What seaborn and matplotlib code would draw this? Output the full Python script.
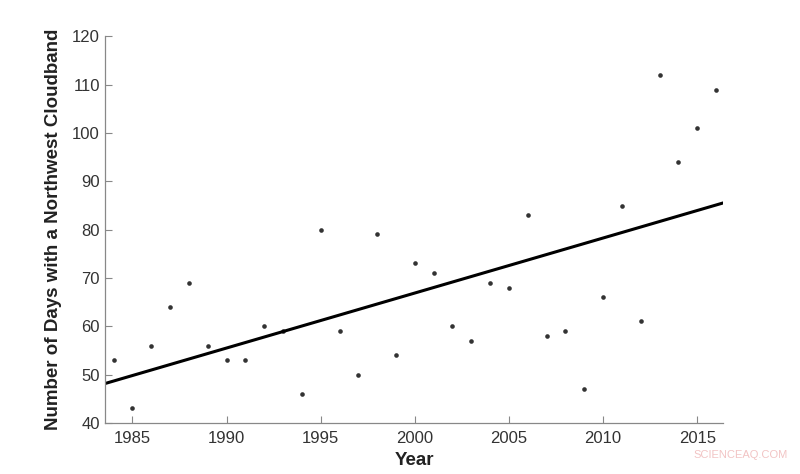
import numpy as np
import pandas as pd
import seaborn as sns
import matplotlib.pyplot as plt

# Yearly counts of northwest cloudband days
years = list(range(1984, 2017))
days = [53, 43, 56, 64, 69, 56, 53, 53, 60, 59,
        46, 80, 59, 50, 79, 54, 73, 71, 60, 57,
        69, 68, 83, 58, 59, 47, 66, 85, 61, 112,
        94, 101, 109]

x_ticks = [1985, 1990, 1995, 2000, 2005, 2010, 2015]
y_ticks = [40, 50, 60, 70, 80, 90, 100, 110, 120]

df = pd.DataFrame({'Year': years, 'Days': days})

sns.set_style('ticks')
plt.rcParams['font.family'] = ['Liberation Sans', 'DejaVu Sans']

fig = plt.figure(figsize=(8, 4.74), dpi=100)
ax = fig.add_axes([0.131, 0.108, 0.773, 0.815])
ax.set_xlim(1983.53, 2016.38)
ax.set_ylim(40, 120)

# scatter + least-squares line spanning the full x range
sns.regplot(data=df, x='Year', y='Days', ax=ax, ci=None, truncate=False,
            scatter_kws={'s': 11, 'color': 'black', 'linewidths': 0},
            line_kws={'color': 'black', 'linewidth': 2.2})

ax.set_xlim(1983.53, 2016.38)
ax.set_ylim(40, 120)
ax.set_xticks(x_ticks)
ax.set_yticks(y_ticks)
ax.tick_params(direction='in', length=5, width=0.8, color='#888888',
               labelsize=12, labelcolor='#333333')
ax.tick_params(axis='y', pad=3.5)
ax.tick_params(axis='x', pad=6)

for side in ['top', 'right']:
    ax.spines[side].set_visible(False)
for side in ['left', 'bottom']:
    ax.spines[side].set_color('#888888')
    ax.spines[side].set_linewidth(0.9)

ax.set_xlabel('Year', fontsize=13.5, fontweight='bold', color='#222222', labelpad=4)
ax.set_ylabel('Number of Days with a Northwest Cloudband', fontsize=13.5,
              fontweight='bold', color='#222222', labelpad=7)

fig.text(0.985, 0.04, 'SCIENCEAQ.COM', ha='right', va='center',
         fontsize=8, color='#f2c4c4')

plt.savefig('out.png', dpi=100)
plt.close()
